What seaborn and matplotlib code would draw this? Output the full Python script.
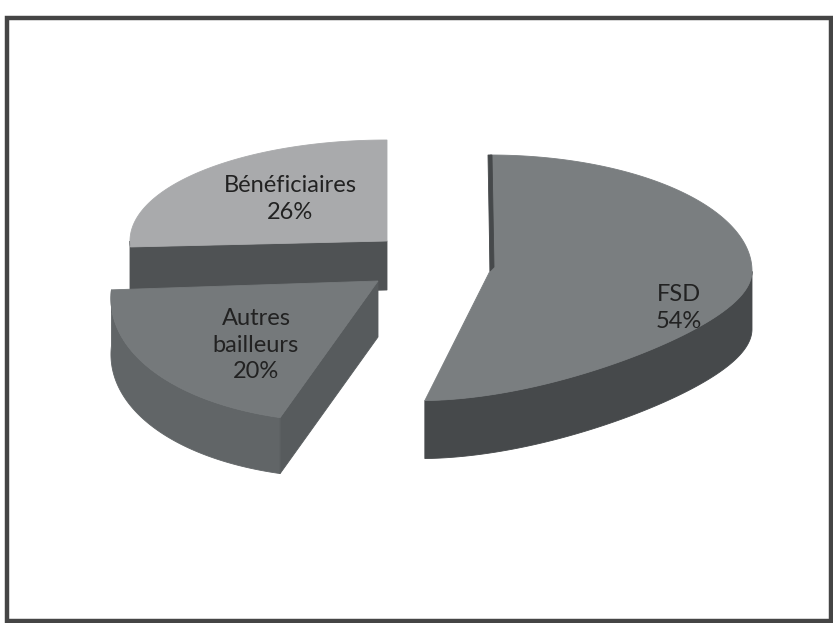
import numpy as np
import matplotlib
matplotlib.use("Agg")
import matplotlib.pyplot as plt
from matplotlib.patches import Polygon, Rectangle
import seaborn as sns

# ---- data ----
categories = ["FSD", "Autres bailleurs", "Bénéficiaires"]
label_lines = ["FSD", "Autres\nbailleurs", "Bénéficiaires"]
values = [54, 20, 26]

# ---- style / 3D geometry (pixels) ----
geom = {
    "FSD": dict(cx=490, cy=271, rx=262, ryb=116, ryf=124, sx=0, sy=-0.15, depth=58,
                top="#7a7e80", side="#46494b", face="#46494b", strip=5, text=(679, 308)),
    "Autres bailleurs": dict(cx=378, cy=281, rx=265, ryb=120, ryf=141, sx=-33, sy=0, depth=56,
                             top="#75797b", side="#616567", face="#575b5d", strip=0, text=(256, 345)),
    "Bénéficiaires": dict(cx=387, cy=241, rx=257, ryb=101, ryf=95, sx=0, sy=0, depth=49,
                          top="#a9aaac", side="#4f5254", face="#4f5254", strip=0, text=(290, 199)),
}
draw_order = ["Bénéficiaires", "Autres bailleurs", "FSD"]

sns.set_theme(style="white")
plt.rcParams["font.family"] = ["Lato", "DejaVu Sans"]

fig = plt.figure(figsize=(8.33, 6.23), dpi=100)
ax = fig.add_axes([0, 0, 1, 1])
ax.set_xlim(0, 833)
ax.set_ylim(623, 0)
ax.axis("off")


def rim(g, th_deg):
    t = np.radians(th_deg)
    s, c = np.sin(t), np.cos(t)
    ry = np.where(s > 0, g["ryb"], g["ryf"])
    front = np.maximum(0, -s)
    x = g["cx"] + g["rx"] * c + g["sx"] * front
    y = g["cy"] - ry * s + g["sy"] * g["rx"] * c * front
    return np.atleast_1d(x), np.atleast_1d(y)


def poly(xs, ys, color, z):
    p = Polygon(np.column_stack([xs, ys]), closed=True, facecolor=color,
                edgecolor=color, linewidth=0.6, zorder=z)
    ax.add_patch(p)


total = float(sum(values))
cum = np.cumsum(values)
prev = cum - np.array(values)
angles = {}
for cat, p0, p1 in zip(categories, prev, cum):
    start = 90 - 360 * p0 / total
    end = 90 - 360 * p1 / total
    angles[cat] = (end, start)

z = 1
for cat in draw_order:
    g = geom[cat]
    lo, hi = angles[cat]
    d = g["depth"]
    # outer curved side (front half)
    th = np.linspace(lo, hi, 600)
    vis = np.sin(np.radians(th)) < 0
    runs = []
    cur = []
    for t, v in zip(th, vis):
        if v:
            cur.append(t)
        elif cur:
            runs.append(cur)
            cur = []
    if cur:
        runs.append(cur)
    for r in runs:
        if len(r) < 2:
            continue
        xs, ys = rim(g, np.array(r))
        poly(np.concatenate([xs, xs[::-1]]), np.concatenate([ys, ys[::-1] + d]), g["side"], z)
    z += 1
    # radial cut faces
    for t, n in ((lo, lo - 90), (hi, hi + 90)):
        if np.sin(np.radians(n)) < -1e-3:
            xr, yr = rim(g, t)
            xs = [g["cx"], xr[0], xr[0], g["cx"]]
            ys = [g["cy"], yr[0], yr[0] + d, g["cy"] + d]
            poly(xs, ys, g["face"], z)
    z += 1
    # top surface
    xs, ys = rim(g, th)
    poly(np.concatenate([[g["cx"]], xs]), np.concatenate([[g["cy"]], ys]), g["top"], z)
    z += 1
    # thin perspective strip of the cut face seen almost edge-on
    if g["strip"]:
        xr, yr = rim(g, hi)
        w = g["strip"]
        poly([xr[0] - 2, xr[0] + w - 3, g["cx"] + w - 1, g["cx"]],
             [yr[0], yr[0], g["cy"] - 4, g["cy"]], g["side"], z)
        z += 1

# labels
for cat, lab, v in zip(categories, label_lines, values):
    tx, ty = geom[cat]["text"]
    ax.text(tx, ty, f"{lab}\n{v}%", ha="center", va="center", multialignment="center",
            fontsize=17, color="#222222", linespacing=1.32, zorder=50)

# frame
ax.add_patch(Rectangle((7.5, 17.5), 824, 603, fill=False, edgecolor="#454545",
                       linewidth=3.2, zorder=60))

fig.savefig("out.png", dpi=100, facecolor="white")
